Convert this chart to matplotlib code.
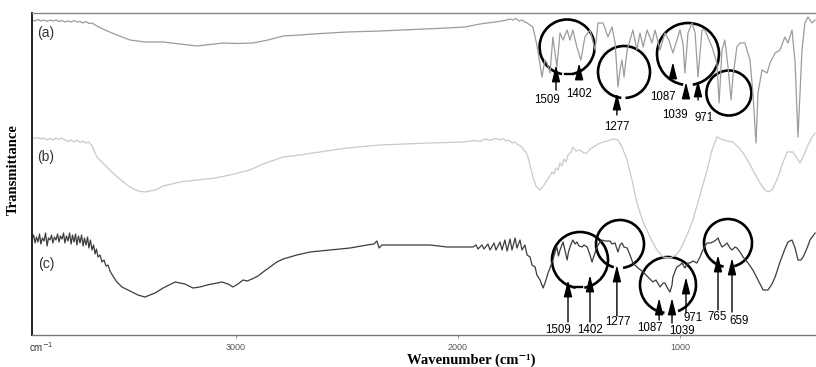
import matplotlib
matplotlib.use("Agg")
import matplotlib.pyplot as plt
from matplotlib.patches import Arc

# ---------------- data (wavenumber cm-1, transmittance arbitrary units) ----------------
wn_a = [3916, 3902, 3889, 3876, 3862, 3848, 3835, 3822, 3808, 3794, 3781, 3768, 3754, 3740, 3727, 3714, 3700,
        3686, 3673, 3660, 3646, 3624, 3588, 3534, 3475, 3408, 3326, 3250, 3174, 3115, 3056, 2989, 2922, 2854,
        2786, 2710, 2652, 2575, 2498, 2350, 2202, 2048, 1968, 1900, 1832, 1788, 1765, 1752, 1738, 1724, 1711,
        1698, 1688, 1675, 1662, 1644, 1621, 1608, 1598, 1585, 1572, 1554, 1540, 1526, 1508, 1495, 1482, 1464,
        1446, 1428, 1405, 1382, 1369, 1346, 1324, 1306, 1292, 1279, 1270, 1261, 1252, 1238, 1225, 1212, 1194,
        1180, 1166, 1148, 1126, 1112, 1090, 1068, 1050, 1032, 1014, 1000, 986, 978, 964, 946, 932, 919, 901,
        888, 856, 834, 824, 811, 798, 784, 770, 762, 744, 730, 708, 685, 672, 658, 649, 631, 608, 595, 572,
        550, 528, 514, 496, 482, 469, 451, 438, 424, 406, 392]
t_a = [315, 314, 315.5, 314, 315, 313.5, 315, 314, 315, 313.5, 314.5, 313, 314, 313, 314.5, 313, 313.5,
       312, 313.5, 311.5, 312, 309, 305, 300, 295, 293, 293, 291, 289, 290.5, 292, 291.5, 292, 295,
       299, 300, 301, 302, 303, 304, 305.5, 307, 308, 311, 313, 314.5, 316, 315, 316.5, 314, 315,
       313, 312, 310, 308, 290, 258, 275, 272, 262, 298, 268, 302, 295, 305, 295, 305, 288,
       275, 298, 305, 285, 312, 312, 298, 308, 292, 248, 265, 275, 258, 285, 295, 305, 285,
       302, 288, 305, 292, 305, 285, 302, 295, 282, 295, 305, 290, 262, 302, 312, 302, 258, 305,
       305, 288, 272, 232, 285, 295, 268, 235, 258, 288, 292, 292, 275, 242, 192, 242, 265, 262, 272, 282,
       285, 298, 292, 305, 272, 198, 285, 312, 318, 312, 315]

wn_b = [3916, 3902, 3889, 3876, 3862, 3848, 3835, 3822, 3808, 3794, 3781, 3768, 3754, 3740, 3727, 3714, 3700,
        3686, 3673, 3660, 3646, 3624, 3588, 3552, 3511, 3475, 3439, 3408, 3362, 3326, 3250, 3174, 3092, 3025,
        2935, 2876, 2786, 2710, 2652, 2498, 2350, 2125, 1976, 1922, 1900, 1878, 1855, 1832, 1810, 1796, 1783,
        1770, 1756, 1742, 1729, 1716, 1702, 1688, 1675, 1662, 1648, 1630, 1612, 1598, 1585, 1576, 1567, 1558,
        1549, 1540, 1531, 1522, 1513, 1504, 1490, 1482, 1468, 1450, 1432, 1418, 1405, 1382, 1360, 1328, 1302,
        1279, 1261, 1238, 1216, 1194, 1166, 1135, 1104, 1076, 1045, 1018, 1000, 968, 942, 910, 878, 856, 834,
        806, 784, 762, 739, 716, 694, 672, 640, 618, 604, 586, 564, 541, 518, 492, 474, 460, 442, 428, 406, 392]
t_b = [198, 196.5, 197.5, 196, 197, 195, 196.5, 195, 197, 195.5, 197, 195, 193.5, 195, 193, 195, 192.5,
       194, 192, 193, 189, 178, 170, 162, 154, 148, 144, 143, 145, 149, 153, 155, 157, 160,
       165, 171, 178, 180, 182, 187, 190, 192, 193, 194.5, 193.5, 196, 194.5, 196.5, 195, 196.5, 194,
       195, 192, 193, 190, 189, 185, 181, 170, 158, 149, 145, 150, 155, 159, 163, 161, 167,
       165, 172, 169, 176, 173, 180, 183, 188, 184, 185, 182, 182, 186, 189, 192, 194, 196,
       195, 188, 175, 155, 132, 113, 98, 85, 78, 77, 80, 85, 100, 115, 140, 165, 185, 198,
       195, 194, 193, 188, 182, 174, 165, 152, 145, 143, 145, 155, 170, 183, 183, 177, 172, 180, 188, 198, 202]

wn_c = [3916, 3909, 3902, 3896, 3889, 3882, 3876, 3869, 3862, 3855, 3848, 3842, 3835, 3828, 3822, 3815, 3808,
        3801, 3794, 3788, 3781, 3774, 3768, 3761, 3754, 3747, 3740, 3734, 3727, 3720, 3714, 3707, 3700, 3693,
        3686, 3680, 3673, 3666, 3660, 3653, 3646, 3639, 3632, 3626, 3619, 3610, 3601, 3592, 3583, 3574, 3565,
        3552, 3534, 3511, 3475, 3439, 3408, 3362, 3326, 3272, 3228, 3192, 3160, 3128, 3061, 3034, 3012, 2989,
        2966, 2948, 2926, 2899, 2876, 2845, 2814, 2786, 2755, 2724, 2665, 2575, 2485, 2408, 2377, 2364, 2354,
        2341, 2305, 2215, 2125, 2048, 1990, 1932, 1918, 1909, 1891, 1882, 1864, 1855, 1837, 1828, 1810, 1801,
        1788, 1778, 1765, 1756, 1742, 1734, 1720, 1711, 1698, 1688, 1675, 1666, 1652, 1644, 1630, 1616, 1603,
        1594, 1585, 1572, 1562, 1554, 1547, 1540, 1533, 1526, 1518, 1508, 1502, 1495, 1488, 1482, 1472, 1464,
        1454, 1441, 1432, 1418, 1405, 1396, 1387, 1374, 1360, 1351, 1338, 1315, 1306, 1292, 1284, 1279, 1270,
        1261, 1252, 1238, 1225, 1212, 1189, 1166, 1144, 1122, 1108, 1090, 1076, 1068, 1054, 1045, 1036, 1032,
        1022, 1014, 1000, 991, 978, 964, 955, 942, 924, 910, 901, 888, 878, 865, 852, 838, 829, 820, 811, 798,
        788, 775, 766, 752, 744, 730, 716, 694, 672, 649, 626, 604, 586, 572, 550, 528, 514, 496, 482, 469,
        456, 446, 428, 415, 392]
t_c = [95, 100, 92, 98, 93, 101, 91, 97, 94, 102, 89, 97, 95, 100, 92, 98, 95,
       101, 93, 99, 96, 102, 92, 99, 94, 102, 91, 100, 93, 101, 90, 99, 92, 100,
       89, 97, 90, 98, 87, 95, 85, 90, 81, 86, 78, 80, 73, 75, 69, 70, 64,
       59, 53, 48, 44, 40, 38, 42, 47, 53, 51, 47, 48, 50, 53, 51, 48, 51,
       55, 54, 56, 59, 63, 68, 73, 76, 78, 80, 83, 85, 87, 90, 91, 94, 87,
       90, 90, 90, 90, 88, 88, 88, 90, 86, 90, 86, 91, 85, 92, 85, 93, 85,
       95, 84, 96, 85, 97, 87, 95, 85, 90, 80, 78, 70, 68, 60, 55, 47, 55,
       62, 67, 75, 83, 88, 79, 85, 89, 93, 85, 75, 83, 88, 92, 95, 91, 93,
       89, 88, 90, 88, 80, 73, 79, 88, 93, 95, 94, 94, 91, 92, 86, 83, 90,
       92, 88, 87, 80, 72, 67, 63, 58, 53, 55, 48, 52, 52, 46, 43, 50, 58,
       64, 68, 70, 72, 67, 72, 72, 74, 72, 78, 83, 89, 92, 92, 93, 95, 97, 92, 88, 90,
       92, 87, 85, 88, 87, 83, 78, 72, 65, 55, 45, 45, 51, 58, 73, 86, 93, 95, 87, 75,
       75, 78, 87, 95, 102]

# annotations: label, arrow wavenumber, arrow tail / head (transmittance), label position
ann_a_labels = ["1509", "1402", "1277", "1087", "1039", "971"]
ann_a_x = [1558, 1454, 1284, 1032, 973, 919]
ann_a_tail = [245, 257, 220, 257, 237, 235]
ann_a_head = [270, 272, 242, 273, 253, 255]
ann_a_lx = [1598, 1454, 1284, 1076, 1022, 892]
ann_a_ly = [235, 241, 208, 238, 220, 217]

ann_c_labels = ["1509", "1402", "1277", "1087", "1039", "971", "765", "659"]
ann_c_x = [1504, 1405, 1284, 1094, 1036, 973, 829, 766]
ann_c_tail = [13, 13, 19, 15, 12, 22, 25, 23]
ann_c_head = [55, 60, 70, 37, 37, 58, 80, 77]
ann_c_lx = [1549, 1405, 1279, 1135, 990, 941, 833, 734]
ann_c_ly = [5, 5, 13, 7, 4, 17, 18, 14]

# circles: centre (wavenumber, transmittance), radius px, visible arc (screen degrees, ccw)
circ_x = [1508, 1252, 964, 780, 1450, 1270, 1054, 784]
circ_y = [288, 263, 281, 242, 75, 91, 50, 92]
circ_r = [27.5, 26, 31, 22.5, 28, 24, 28, 24]
circ_a1 = [-50, -75, -55, 0, -55, -60, -30, -40]
circ_a2 = [230, 245, 235, 360, 235, 220, 240, 230]

dash_x = [(1518, 1486), (1472, 1441)]
dash_y = [261, 48]

series_labels = ["(a)", "(b)", "(c)"]
series_label_y = [302, 178, 71]

xticks = [3000, 2000, 1000]
XMIN, XMAX = 3916, 388
YMIN, YMAX = 0, 322

# ---------------- figure ----------------
fig = plt.figure(figsize=(8.16, 3.67), dpi=100)
ax = fig.add_axes([32 / 816, 32 / 367, 784 / 816, 322 / 367])
ax.plot(wn_a, t_a, color="#9c9c9c", lw=0.9)
ax.plot(wn_b, t_b, color="#c9c9c9", lw=0.9)
ax.plot(wn_c, t_c, color="#3c3c3c", lw=0.9)
ax.set_xlim(XMIN, XMAX)
ax.set_ylim(YMIN, YMAX)

ax.spines["right"].set_visible(False)
ax.spines["left"].set_color("#222222")
ax.spines["left"].set_linewidth(1.4)
ax.spines["top"].set_color("#888888")
ax.spines["top"].set_linewidth(1.0)
ax.spines["bottom"].set_color("#777777")
ax.spines["bottom"].set_linewidth(1.0)
ax.set_yticks([])
ax.set_xticks(xticks)
ax.set_xticklabels([str(v) for v in xticks], fontsize=6.5, color="#555555", family="Liberation Sans")
ax.tick_params(axis="x", length=2.5, width=0.6, color="#777777", pad=3)

ax.text(-0.004, -0.037, "cm$^{-1}$", transform=ax.transAxes, fontsize=7, color="#333333",
        family="Liberation Sans", ha="left", va="center")
ax.text(0.56, -0.078, "Wavenumber (cm\u207b\u00b9)", transform=ax.transAxes, fontsize=10.5,
        fontweight="bold", family=["Liberation Serif", "DejaVu Serif"], ha="center", va="center")
ax.text(-0.024, 0.515, "Transmittance", transform=ax.transAxes, fontsize=10.5, fontweight="bold",
        family="Liberation Serif", rotation=90, ha="center", va="center")

for lab, ly in zip(series_labels, series_label_y):
    ax.text(3853, ly, lab, fontsize=10, color="#333333", family="Liberation Sans", ha="center", va="center")

# pixel scale for circles
pos = ax.get_position()
ax_w_px = fig.get_figwidth() * fig.dpi * pos.width
ax_h_px = fig.get_figheight() * fig.dpi * pos.height
sx = abs(XMIN - XMAX) / ax_w_px
sy = (YMAX - YMIN) / ax_h_px

for cx, cy, r, a1, a2 in zip(circ_x, circ_y, circ_r, circ_a1, circ_a2):
    # x axis is inverted: a screen angle s maps to data angle 180 - s
    ax.add_patch(Arc((cx, cy), 2 * r * sx, 2 * r * sy, theta1=180 - a2, theta2=180 - a1,
                     color="black", lw=1.9))

arrow_style = dict(arrowstyle="-|>,head_length=1.0,head_width=0.25", color="black", lw=1.0,
                   shrinkA=0, shrinkB=0, mutation_scale=10)
for lab, x, t0, t1, lx, ly in zip(ann_a_labels, ann_a_x, ann_a_tail, ann_a_head, ann_a_lx, ann_a_ly):
    ax.annotate("", xy=(x, t1), xytext=(x, t0), arrowprops=arrow_style)
    ax.text(lx, ly, lab, fontsize=8.3, family="Liberation Sans", ha="center", va="center")
for lab, x, t0, t1, lx, ly in zip(ann_c_labels, ann_c_x, ann_c_tail, ann_c_head, ann_c_lx, ann_c_ly):
    ax.annotate("", xy=(x, t1), xytext=(x, t0), arrowprops=arrow_style)
    ax.text(lx, ly, lab, fontsize=8.3, family="Liberation Sans", ha="center", va="center")
for (x0, x1), y in zip(dash_x, dash_y):
    ax.plot([x0, x1], [y, y], color="black", lw=1.7)

fig.savefig("out.png", dpi=100)
